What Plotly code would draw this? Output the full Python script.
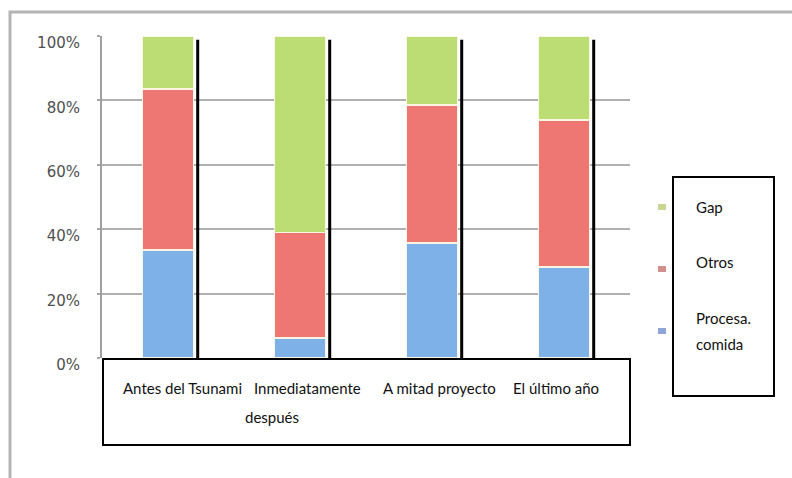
import plotly.graph_objects as go

# ---- data ----
categories = ["Antes del Tsunami", "Inmediatamente después", "A mitad proyecto", "El último año"]
series_names = ["Procesa. comida", "Otros", "Gap"]
procesa = [0.335, 0.062, 0.357, 0.283]
otros = [0.500, 0.328, 0.429, 0.456]
gap = [0.165, 0.610, 0.214, 0.261]
tick_vals = [0, 0.2, 0.4, 0.6, 0.8, 1.0]

series_values = [procesa, otros, gap]
bar_colors = ["#7fb1e9", "#ee7774", "#bcdd74"]
legend_colors = ["#8fa6da", "#d48e8e", "#c6d794"]

W, H = 792, 478
L, R, T, B = 102, 630, 36, 358  # plot area in pixels


def xp(px):
    return (px - L) / (R - L)


def yp(py):
    return (B - py) / (B - T)


xs = list(range(len(categories)))
fig = go.Figure()
for name, vals, col in zip(series_names, series_values, bar_colors):
    fig.add_trace(go.Bar(
        x=xs, y=vals, name=name, width=0.39,
        marker=dict(color=col, line=dict(color="#fbf7e4", width=1.5)),
        showlegend=False,
    ))

# black "shadow" line on the right side of each bar
totals = [sum(v) for v in zip(*series_values)]
lx, ly = [], []
for i, t in zip(xs, totals):
    lx += [i + 0.225, i + 0.225, None]
    ly += [0, t * 0.988, None]
fig.add_trace(go.Scatter(x=lx, y=ly, mode="lines", line=dict(color="black", width=3),
                         showlegend=False, hoverinfo="skip"))

shapes = []
# outer gray frame (left and top edges) as one path
frame_path = "M {:.5f},{:.5f} L {:.5f},{:.5f} L {:.5f},{:.5f}".format(
    xp(10), yp(H + 5), xp(10), yp(12), xp(W + 5), yp(12))
shapes.append(dict(type="path", xref="paper", yref="paper", path=frame_path,
                   line=dict(color="#b5b5b5", width=3), layer="above"))
# category box
shapes.append(dict(type="rect", xref="paper", yref="paper",
                   x0=xp(103), x1=xp(630), y0=yp(445), y1=yp(359),
                   line=dict(color="black", width=2), fillcolor="white"))
# legend box
shapes.append(dict(type="rect", xref="paper", yref="paper",
                   x0=xp(673), x1=xp(774), y0=yp(396), y1=yp(177),
                   line=dict(color="black", width=2), fillcolor="white"))

annotations = []
font_box = dict(family="Lato", size=15, color="#111111")
# category labels
label_lines = [
    [(182, 388)],
    [(307, 388), (272, 417)],
    [(439, 388)],
    [(556, 388)],
]
for cat, pos in zip(categories, label_lines):
    words = [cat] if len(pos) == 1 else cat.split(" ")
    for w, (cx, cy) in zip(words, pos):
        annotations.append(dict(xref="paper", yref="paper", x=xp(cx), y=yp(cy), text=w,
                                showarrow=False, xanchor="center", yanchor="middle", font=font_box))

# legend
leg_marker_y = {"Gap": 207, "Otros": 269, "Procesa. comida": 331}
leg_text_pos = {"Gap": [207], "Otros": [262], "Procesa. comida": [318, 344]}
for name, col in zip(series_names, legend_colors):
    my = leg_marker_y[name]
    shapes.append(dict(type="rect", xref="paper", yref="paper",
                       x0=xp(658), x1=xp(666), y0=yp(my + 3), y1=yp(my - 3),
                       line=dict(width=0), fillcolor=col))
    ys = leg_text_pos[name]
    words = [name] if len(ys) == 1 else name.split(" ")
    for w, ty in zip(words, ys):
        annotations.append(dict(xref="paper", yref="paper", x=xp(694), y=yp(ty), text=w,
                                showarrow=False, xanchor="left", yanchor="middle", font=font_box))

fig.update_layout(
    width=W, height=H,
    margin=dict(l=L, r=W - R, t=T, b=H - B),
    paper_bgcolor="white", plot_bgcolor="white",
    barmode="stack",
    shapes=shapes, annotations=annotations,
    xaxis=dict(range=[-0.5, 3.5], showticklabels=False, showgrid=False, zeroline=False,
               showline=False, ticks=""),
    yaxis=dict(range=[0, 1], tickvals=tick_vals, tickformat=".0%",
               showgrid=True, gridcolor="#b0b0b0", gridwidth=2,
               showline=True, linecolor="#a0a0a0", linewidth=2,
               ticks="outside", ticklen=3, tickcolor="#a8a8a8", tickwidth=2,
               zeroline=False, ticklabelstandoff=14, ticklabelshift=7,
               tickfont=dict(family="DejaVu Sans", size=15, color="#505050")),
)
fig.write_html("out.html", config={"displayModeBar": False})
